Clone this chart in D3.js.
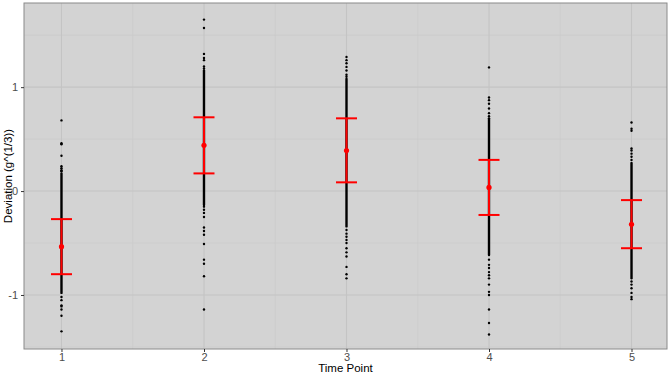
<!DOCTYPE html>
<html>
<head>
<meta charset="utf-8">
<script src="https://cdn.jsdelivr.net/npm/d3@7"></script>
<style>
  body { margin: 0; background: #fff; }
  text { font-family: "Liberation Sans", Arial, sans-serif; }
</style>
</head>
<body>
<script>
// time points on x
const timePoints = [1, 2, 3, 4, 5];
// mean and error bar ends per time point
const means = [-0.535, 0.44, 0.39, 0.035, -0.32];
const errLow = [-0.80, 0.17, 0.084, -0.23, -0.55];
const errHigh = [-0.27, 0.71, 0.70, 0.30, -0.087];
// dense part of each column of points
const denseLow = [-0.98, -0.135, -0.34, -0.615, -0.84];
const denseHigh = [0.17, 1.15, 1.08, 0.70, 0.27];
// separate points that stand out of the dense part
const sparse1 = [0.68, 0.46, 0.45, 0.34, 0.24, 0.22, 0.20, 0.19, -1.02, -1.05, -1.10, -1.11, -1.14, -1.20, -1.35];
const sparse2 = [1.65, 1.57, 1.32, 1.28, 1.26, 1.20, 1.18, 1.16, -0.15, -0.18, -0.21, -0.25, -0.35, -0.385, -0.42, -0.51, -0.66, -0.70, -0.82, -1.14];
const sparse3 = [1.29, 1.26, 1.23, 1.195, 1.16, 1.12, 1.10, -0.375, -0.41, -0.44, -0.47, -0.50, -0.55, -0.59, -0.63, -0.73, -0.80, -0.84];
const sparse4 = [1.19, 0.90, 0.875, 0.84, 0.795, 0.75, 0.72, -0.66, -0.71, -0.74, -0.78, -0.81, -0.84, -0.90, -0.97, -1.0, -1.14, -1.27, -1.38];
const sparse5 = [0.66, 0.60, 0.58, 0.41, 0.39, 0.36, 0.33, 0.30, -0.87, -0.90, -0.935, -0.98, -1.02, -1.04];
const sparse = [sparse1, sparse2, sparse3, sparse4, sparse5];
const yTicks = [-1, 0, 1];
const yMinor = [-1.5, -0.5, 0.5, 1.5];
const xMinor = [1.5, 2.5, 3.5, 4.5];

const W = 669, H = 374;
const pLeft = 24, pRight = 667, pTop = 3, pBottom = 349;

const svg = d3.select("body").append("svg")
  .attr("width", W).attr("height", H);

const x = d3.scaleLinear().domain([0.737, 5.249]).range([pLeft, pRight]);
const y = d3.scaleLinear().domain([-1.52, 1.81]).range([pBottom, pTop]);

// panel
svg.append("rect")
  .attr("x", pLeft).attr("y", pTop)
  .attr("width", pRight - pLeft).attr("height", pBottom - pTop)
  .attr("fill", "#d3d3d3");

const grid = svg.append("g");
grid.selectAll("line.ymin").data(yMinor).enter().append("line")
  .attr("x1", pLeft).attr("x2", pRight)
  .attr("y1", d => y(d)).attr("y2", d => y(d))
  .attr("stroke", "#c9c9c9").attr("stroke-width", 0.6);
grid.selectAll("line.xmin").data(xMinor).enter().append("line")
  .attr("y1", pTop).attr("y2", pBottom)
  .attr("x1", d => x(d)).attr("x2", d => x(d))
  .attr("stroke", "#c9c9c9").attr("stroke-width", 0.6);
grid.selectAll("line.ymaj").data(yTicks).enter().append("line")
  .attr("x1", pLeft).attr("x2", pRight)
  .attr("y1", d => y(d)).attr("y2", d => y(d))
  .attr("stroke", "#c4c4c4").attr("stroke-width", 1.1);
grid.selectAll("line.xmaj").data(timePoints).enter().append("line")
  .attr("y1", pTop).attr("y2", pBottom)
  .attr("x1", d => x(d)).attr("x2", d => x(d))
  .attr("stroke", "#c4c4c4").attr("stroke-width", 1.1);

// dense columns of points
svg.selectAll("line.dense").data(timePoints).enter().append("line")
  .attr("x1", d => x(d)).attr("x2", d => x(d))
  .attr("y1", (d, i) => y(denseLow[i])).attr("y2", (d, i) => y(denseHigh[i]))
  .attr("stroke", "#000").attr("stroke-width", 2.4)
  .attr("stroke-linecap", "round");

// separate points
timePoints.forEach((t, i) => {
  svg.selectAll(null).data(sparse[i]).enter().append("circle")
    .attr("cx", x(t)).attr("cy", d => y(d))
    .attr("r", 1.2).attr("fill", "#000");
});

// error bars
const eb = svg.append("g").attr("stroke", "#ff0000").attr("stroke-width", 2);
eb.selectAll("line.v").data(timePoints).enter().append("line")
  .attr("x1", d => x(d)).attr("x2", d => x(d))
  .attr("y1", (d, i) => y(errLow[i])).attr("y2", (d, i) => y(errHigh[i]));
eb.selectAll("line.lo").data(timePoints).enter().append("line")
  .attr("x1", d => x(d) - 10.5).attr("x2", d => x(d) + 10.5)
  .attr("y1", (d, i) => y(errLow[i])).attr("y2", (d, i) => y(errLow[i]));
eb.selectAll("line.hi").data(timePoints).enter().append("line")
  .attr("x1", d => x(d) - 10.5).attr("x2", d => x(d) + 10.5)
  .attr("y1", (d, i) => y(errHigh[i])).attr("y2", (d, i) => y(errHigh[i]));
svg.selectAll("circle.mean").data(timePoints).enter().append("circle")
  .attr("cx", d => x(d)).attr("cy", (d, i) => y(means[i]))
  .attr("r", 2.6).attr("fill", "#ff0000");

// panel border
svg.append("rect")
  .attr("x", pLeft).attr("y", pTop)
  .attr("width", pRight - pLeft).attr("height", pBottom - pTop)
  .attr("fill", "none").attr("stroke", "#8a8a8a").attr("stroke-width", 1);

// axes
const xAxis = svg.append("g").attr("transform", `translate(0,${pBottom})`)
  .call(d3.axisBottom(x).tickValues(timePoints).tickFormat(d3.format("d")).tickSize(3).tickPadding(1));
const yAxis = svg.append("g").attr("transform", `translate(${pLeft},0)`)
  .call(d3.axisLeft(y).tickValues(yTicks).tickFormat(d => d < 0 ? "-" + Math.abs(d) : d).tickSize(3).tickPadding(3));
[xAxis, yAxis].forEach(a => {
  a.select(".domain").remove();
  a.selectAll(".tick line").attr("stroke", "#333");
  a.selectAll(".tick text").attr("fill", "#4d4d4d").style("font-size", "11px");
});

svg.append("text")
  .attr("x", (pLeft + pRight) / 2).attr("y", 372)
  .attr("text-anchor", "middle").style("font-size", "11.5px").attr("fill", "#000")
  .text("Time Point");
svg.append("text")
  .attr("transform", `translate(12,${(pTop + pBottom) / 2}) rotate(-90)`)
  .attr("text-anchor", "middle").style("font-size", "11.5px").attr("fill", "#000")
  .text("Deviation (g^(1/3))");
</script>
</body>
</html>
